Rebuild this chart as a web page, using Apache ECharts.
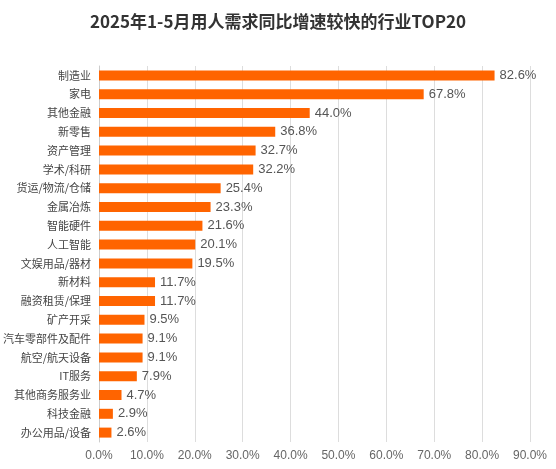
<!DOCTYPE html>
<html><head><meta charset="utf-8">
<script src="https://cdn.jsdelivr.net/npm/echarts@6/dist/echarts.min.js"></script>
<style>html,body{margin:0;padding:0;background:#fff}#c{width:556px;height:469px}</style>
</head><body><div id="c"></div>
<script>
var categories = ['制造业','家电','其他金融','新零售','资产管理','学术/科研','货运/物流/仓储','金属冶炼','智能硬件','人工智能','文娱用品/器材','新材料','融资租赁/保理','矿产开采','汽车零部件及配件','航空/航天设备','IT服务','其他商务服务业','科技金融','办公用品/设备'];
var values = [82.6,67.8,44.0,36.8,32.7,32.2,25.4,23.3,21.6,20.1,19.5,11.7,11.7,9.5,9.1,9.1,7.9,4.7,2.9,2.6];
var chart = echarts.init(document.getElementById('c'));
chart.setOption({
  animation:false,
  title:{text:'2025年1-5月用人需求同比增速较快的行业TOP20',left:'center',top:8,textStyle:{fontSize:17,fontWeight:'bold',color:'#333',fontFamily:'Noto Sans CJK SC'}},
  grid:{left:98,right:26,top:66,bottom:27},
  xAxis:{type:'value',min:0,max:90,interval:10,
    axisLabel:{formatter:function(v){return v.toFixed(1)+'%';},color:'#666',fontSize:12},
    splitLine:{lineStyle:{color:'#ddd'}},axisLine:{show:false},axisTick:{show:false}},
  yAxis:{type:'category',data:categories,inverse:true,
    axisLabel:{color:'#444',fontSize:11,fontFamily:'Noto Sans CJK SC'},
    axisLine:{lineStyle:{color:'#ccc'}},axisTick:{show:false}},
  series:[{type:'bar',data:values,barWidth:10,itemStyle:{color:'#FF6400'},
    label:{show:true,position:'right',formatter:function(p){return p.value.toFixed(1)+'%';},color:'#555',fontSize:13}}]
});
</script></body></html>
